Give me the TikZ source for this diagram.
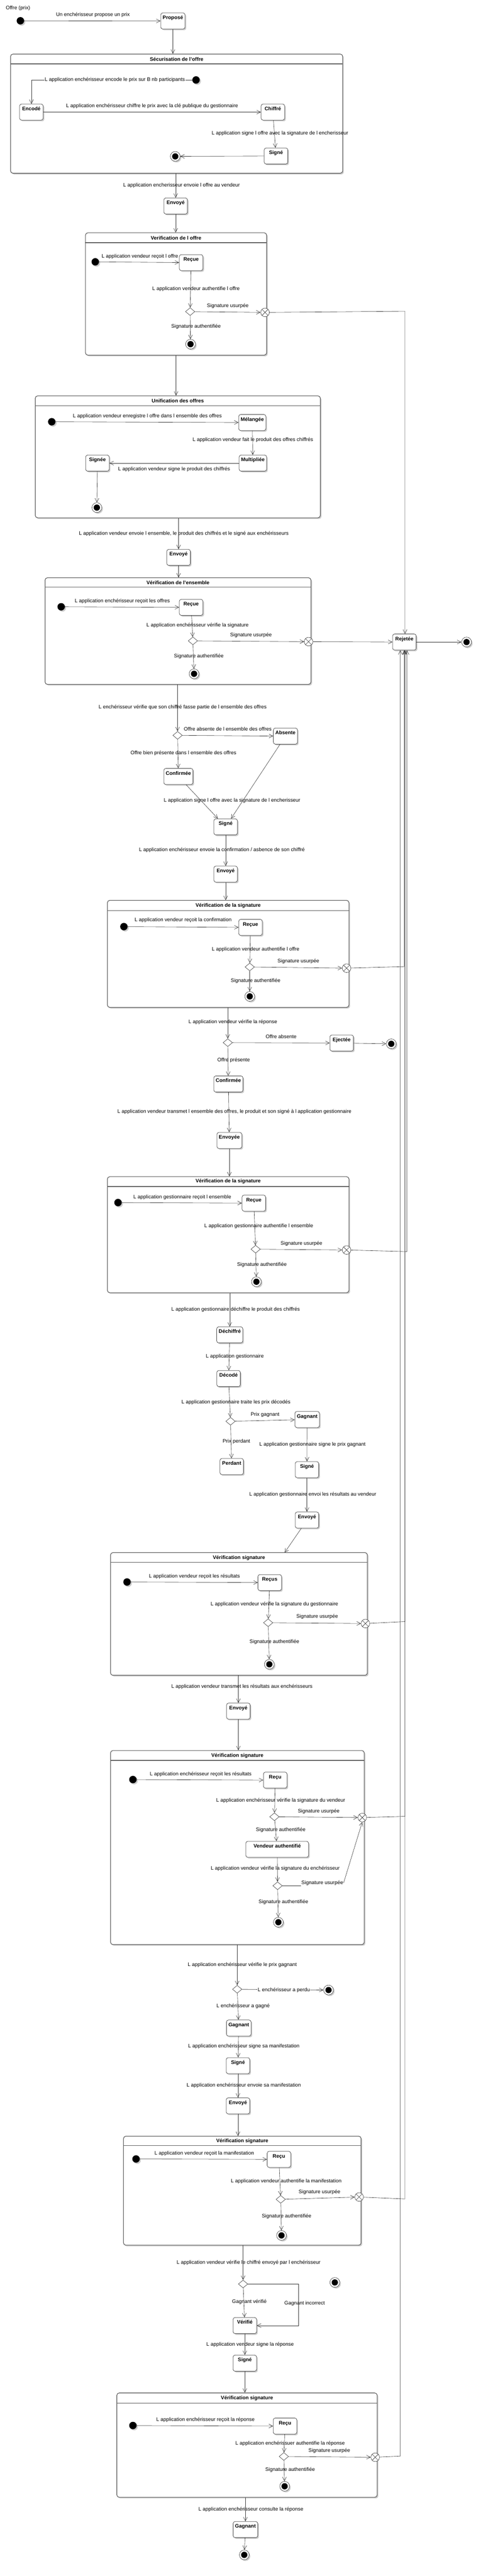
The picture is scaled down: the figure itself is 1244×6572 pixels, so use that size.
\documentclass[tikz,border=0pt]{standalone}
\usepackage{fontspec}
\setmainfont{Liberation Sans}
\usetikzlibrary{arrows.meta,shapes.geometric,shadows,fit,calc}
\begin{document}
\begin{tikzpicture}[x=1pt,y=-1pt,
  every node/.style={font=\fontsize{13}{15}\selectfont},
  ln/.style={draw=black!78, line width=0.8pt},
  tr/.style={ln, -{Straight Barb[length=10pt,width=10pt,line width=0.8pt]}},
  shad/.style={drop shadow={shadow xshift=3pt,shadow yshift=-3pt,fill=black!20,opacity=1}},
  st/.style={draw=black!72, line width=1pt, fill=white, rounded corners=5pt, minimum width=60pt, minimum height=41pt, inner xsep=5pt, inner ysep=2pt, text height=9pt, text depth=17pt, font=\fontsize{13}{15}\selectfont\bfseries, shad},
  comp/.style={draw=black!68, line width=1.4pt, fill=white, rounded corners=6pt, inner sep=0pt, shad},
  ctitle/.style={font=\fontsize{13}{15}\selectfont\bfseries},
  csep/.style={draw=black!62, line width=2pt},
  ini/.style={circle, fill=black, minimum size=19pt, inner sep=0pt, shad},
  fin/.style={circle, draw=black!80, line width=0.8pt, fill=white, minimum size=25pt, inner sep=0pt, shad, path picture={\fill[black] (path picture bounding box.center) circle[radius=8pt];}},
  dec/.style={diamond, draw=black!80, line width=0.8pt, fill=white, minimum width=24pt, minimum height=20pt, inner sep=0pt},
  xpt/.style={circle, draw=black!80, line width=0.8pt, fill=white, minimum size=22pt, inner sep=0pt, path picture={\draw[black!80,line width=0.8pt] ([shift={(-7.8pt,-7.8pt)}]path picture bounding box.center) -- ([shift={(7.8pt,7.8pt)}]path picture bounding box.center) ([shift={(-7.8pt,7.8pt)}]path picture bounding box.center) -- ([shift={(7.8pt,-7.8pt)}]path picture bounding box.center);}},
  lbl/.style={inner sep=1pt},
  lblw/.style={inner sep=1pt, fill=white},
]
\fill[white] (0,0) rectangle (1244,6572);
\useasboundingbox (0,0) rectangle (1244,6572);

% ---------- composite states ----------
\node[comp, fit={(27,138) (874,442)}] (C1) {};
\node[comp, fit={(218,594) (680,906)}] (C2) {};
\node[comp, fit={(90,1010) (817,1321)}] (C3) {};
\node[comp, fit={(115,1474) (793,1746)}] (C4) {};
\node[comp, fit={(274,2297) (890,2570)}] (C5) {};
\node[comp, fit={(274,3002) (890,3298)}] (C6) {};
\node[comp, fit={(282,3961) (937,4274)}] (C7) {};
\node[comp, fit={(282,4466) (929,4961)}] (C8) {};
\node[comp, fit={(315,5450) (921,5728)}] (C9) {};
\node[comp, fit={(298,6105) (962,6371)}] (C10) {};

\draw[csep] (C1.west |- 0,163) -- (C1.east |- 0,163);
\draw[csep] (C2.west |- 0,619) -- (C2.east |- 0,619);
\draw[csep] (C3.west |- 0,1035) -- (C3.east |- 0,1035);
\draw[csep] (C4.west |- 0,1498) -- (C4.east |- 0,1498);
\draw[csep] (C5.west |- 0,2323) -- (C5.east |- 0,2323);
\draw[csep] (C6.west |- 0,3027) -- (C6.east |- 0,3027);
\draw[csep] (C7.west |- 0,3986) -- (C7.east |- 0,3986);
\draw[csep] (C8.west |- 0,4491) -- (C8.east |- 0,4491);
\draw[csep] (C9.west |- 0,5474) -- (C9.east |- 0,5474);
\draw[csep] (C10.west |- 0,6131) -- (C10.east |- 0,6131);

\node[ctitle] (t1) at (C1.north |- 0,151) {Sécurisation de l'offre};
\node[ctitle] (t2) at (C2.north |- 0,607) {Verification de l offre};
\node[ctitle] (t3) at (C3.north |- 0,1023) {Unification des offres};
\node[ctitle] (t4) at (C4.north |- 0,1486) {Vérification de l'ensemble};
\node[ctitle] (t5) at (C5.north |- 0,2310) {Vérification de la signature};
\node[ctitle] (t6) at (C6.north |- 0,3014) {Vérification de la signature};
\node[ctitle] (t7) at (C7.north |- 0,3975) {Vérification signature};
\node[ctitle] (t8) at (C8.north |- 0,4479) {Vérification signature};
\node[ctitle] (t9) at (C9.north |- 0,5462) {Vérification signature};
\node[ctitle] (t10) at (C10.north |- 0,6119) {Vérification signature};

% ---------- states ----------
\node[st] (prop) at (441,53.5) {Proposé};
\node[st] (enc) at (80,286) {Encodé};
\node[st] (chif) at (696,286) {Chiffré};
\node[st] (sig1) at (704,398) {Signé};
\node[st] (env1) at (448,525.5) {Envoyé};
\node[st] (rec2) at (487.5,670) {Reçue};
\node[st] (mel) at (643.5,1078) {Mélangée};
\node[st] (mul) at (645,1181.5) {Multipliée};
\node[st] (sgn3) at (248.5,1181.5) {Signée};
\node[st] (env3) at (455.5,1422) {Envoyé};
\node[st] (rec4) at (487.5,1549.5) {Reçue};
\node[st] (rej) at (1031.5,1638) {Rejetée};
\node[st] (abs) at (728,1878) {Absente};
\node[st] (conf5) at (455,1981) {Confirmée};
\node[st] (sig5) at (575.5,2109.5) {Signé};
\node[st] (env5) at (575.5,2230) {Envoyé};
\node[st] (rec5) at (639,2366) {Reçue};
\node[st] (ej) at (871.5,2661) {Ejectée};
\node[st] (conf7) at (582.5,2765.5) {Confirmée};
\node[st] (env7) at (585,2909.5) {Envoyée};
\node[st] (rec6) at (647.5,3069.5) {Reçue};
\node[st] (dech) at (586,3405.5) {Déchiffré};
\node[st] (deco) at (583,3517) {Décodé};
\node[st] (gag9) at (783.5,3621.5) {Gagnant};
\node[st] (perd) at (591,3741.5) {Perdant};
\node[st] (sig9) at (783,3749.5) {Signé};
\node[st] (env9) at (783,3878) {Envoyé};
\node[st] (rec7) at (688,4037.5) {Reçus};
\node[st] (env10) at (608,4365.5) {Envoyé};
\node[st] (rec8) at (702,4541.5) {Reçu};
\node[st, minimum width=160pt] (vauth) at (707,4718) {Vendeur authentifié};
\node[st] (gag13) at (609,5174) {Gagnant};
\node[st] (sig13) at (607,5270) {Signé};
\node[st] (env13) at (607,5372.5) {Envoyé};
\node[st] (rec9) at (711.5,5509) {Reçu};
\node[st] (ver) at (624.5,5933) {Vérifié};
\node[st] (sig15) at (624.5,6029) {Signé};
\node[st] (rec10) at (727,6189.5) {Reçu};
\node[st] (gag16) at (626,6453.5) {Gagnant};

% ---------- pseudo states ----------
\node[ini] (i0) at (52,53) {};
\node[ini] (i1) at (500,204) {};
\node[ini] (i2) at (243,668) {};
\node[ini] (i3) at (132,1076) {};
\node[ini] (i4) at (156,1548) {};
\node[ini] (i5) at (316,2364) {};
\node[ini] (i6) at (301,3068) {};
\node[ini] (i7) at (324,4036) {};
\node[ini] (i8) at (339,4540) {};
\node[ini] (i9) at (347,5508) {};
\node[ini] (i10) at (339,6188) {};

\node[fin] (f1) at (447,399) {};
\node[fin] (f2) at (486,878) {};
\node[fin] (f3) at (247,1295) {};
\node[fin] (ffr) at (1190,1638) {};
\node[fin] (f4) at (495,1719) {};
\node[fin] (f6) at (637,2542) {};
\node[fin] (fej) at (998,2663) {};
\node[fin] (f8) at (654,3270) {};
\node[fin] (f10) at (687,4246) {};
\node[fin] (f12) at (710,4904) {};
\node[fin] (f13) at (838,5077) {};
\node[fin] (f14) at (718,5703) {};
\node[fin] (fsa) at (854,5823) {};
\node[fin] (f16) at (726,6343) {};
\node[fin] (fend) at (623,6518) {};

\node[dec] (d2) at (485,795) {};
\node[dec] (d4) at (492,1635) {};
\node[dec] (d5) at (453,1876) {};
\node[dec] (d6) at (637,2467) {};
\node[dec] (d7) at (581,2660) {};
\node[dec] (d8) at (652,3187) {};
\node[dec] (d9) at (588,3626) {};
\node[dec] (d10) at (684,4140) {};
\node[dec] (d11) at (700,4635) {};
\node[dec] (d12) at (708,4811) {};
\node[dec] (d13) at (605,5075) {};
\node[dec] (d14) at (716,5611) {};
\node[dec] (d15) at (620,5827) {};
\node[dec] (d16) at (724,6267) {};

\node[xpt] (x2) at (676,797) {};
\node[xpt] (x4) at (787,1637) {};
\node[xpt] (x6) at (884,2470) {};
\node[xpt] (x8) at (884,3189) {};
\node[xpt] (x10) at (932,4142) {};
\node[xpt] (x11) at (924,4637) {};
\node[xpt] (x14) at (916,5605) {};
\node[xpt] (x16) at (957,6269) {};

\coordinate (b2) at (1033,794);
\coordinate (b6) at (1031,2466);
\coordinate (b8) at (1038,3193);
\coordinate (b10) at (1033,4137);
\coordinate (b11) at (1033,4634);
\coordinate (b14) at (1033,5610);
\coordinate (b16) at (1021,6266);
\coordinate (c7in) at (726,3961);
\coordinate (c15) at (761,5827);

% ---------- labels ----------
\node[lbl] (l0) at (46,21) {Offre (prix)};
\node[lbl] (la) at (237,38) {Un enchérisseur propose un prix};
\node[lbl] (lc) at (388,271) {L application enchérisseur chiffre le prix avec la clé publique du gestionnaire};
\node[lbl] (ld) at (714,340) {L application signe l offre avec la signature de l encherisseur};
\node[lbl] (le) at (463,473) {L application encherisseur envoie l offre au vendeur};
\node[lbl] (lf) at (357,654) {L application vendeur reçoit l offre};
\node[lbl] (lg) at (500,737) {L application vendeur authentifie l offre};
\node[lbl] (lh) at (581,781) {Signature usurpée};
\node[lbl] (li) at (500,833) {Signature authentifiée};
\node[lbl] (lj) at (376,1062) {L application vendeur enregistre l offre dans l ensemble des offres};
\node[lbl] (lk) at (645,1122) {L application vendeur fait le produit des offres chiffrés};
\node[lbl] (ll) at (444,1197) {L application vendeur signe le produit des chiffrés};
\node[lbl] (lm) at (469,1361) {L application vendeur envoie l ensemble, le produit des chiffrés et le signé aux enchérisseurs};
\node[lbl] (ln) at (312,1534) {L application enchérisseur reçoit les offres};
\node[lbl] (lo) at (504,1595) {L application enchérisseur vérifie la signature};
\node[lbl] (lp) at (640,1621) {Signature usurpée};
\node[lbl] (lq) at (507,1674) {Signature authentifiée};
\node[lbl] (lr) at (466,1804) {L enchérisseur vérifie que son chiffré fasse partie de l ensemble des offres};
\node[lbl] (ls) at (581,1860) {Offre absente de l ensemble des offres};
\node[lbl] (lt) at (468,1921) {Offre bien présente dans l ensemble des offres};
\node[lbl] (lu) at (592,2042) {L application signe l offre avec la signature de l encherisseur};
\node[lbl] (lv) at (566,2168) {L application enchérisseur envoie la confirmation / asbence de son chiffré};
\node[lbl] (lw) at (467,2348) {L application vendeur reçoit la confirmation};
\node[lbl] (lx) at (652,2422) {L application vendeur authentifie l offre};
\node[lbl] (ly) at (761,2452) {Signature usurpée};
\node[lbl] (lz) at (652,2502) {Signature authentifiée};
\node[lbl] (m1) at (594,2608) {L application vendeur vérifie la réponse};
\node[lbl] (m2) at (717,2644) {Offre absente};
\node[lbl] (m3) at (596,2705) {Offre présente};
\node[lbl] (m4) at (598,2836) {L application vendeur transmet l ensemble des offres, le produit et son signé à l application gestionnaire};
\node[lbl] (m5) at (465,3055) {L application gestionnaire reçoit l ensemble};
\node[lbl] (m6) at (660,3128) {L application gestionnaire authentifie l ensemble};
\node[lbl] (m7) at (769,3173) {Signature usurpée};
\node[lbl] (m8) at (668,3226) {Signature authentifiée};
\node[lbl] (m9) at (601,3341) {L application gestionnaire déchiffre le produit des chiffrés};
\node[lbl] (m10) at (599,3461) {L application gestionnaire};
\node[lbl] (m11) at (602,3577) {L application gestionnaire traite les prix décodés};
\node[lbl] (m12) at (676,3609) {Prix gagnant};
\node[lbl] (m13) at (603,3678) {Prix perdant};
\node[lbl] (m14) at (797,3685) {L application gestionnaire signe le prix gagnant};
\node[lbl] (m15) at (798,3813) {L application gestionnaire envoi les résultats au vendeur};
\node[lbl] (m16) at (496,4022) {L application vendeur reçoit les résultats};
\node[lbl] (m17) at (700,4093) {L application vendeur vérifie la signature du gestionnaire};
\node[lbl] (m18) at (809,4125) {Signature usurpée};
\node[lbl] (m19) at (700,4189) {Signature authentifiée};
\node[lbl] (m20) at (617,4303) {L application vendeur transmet les résultats aux enchérisseurs};
\node[lbl] (m21) at (512,4526) {L application enchérisseur reçoit les résultats};
\node[lbl] (m22) at (716,4594) {L application enchérisseur vérifie la signature du vendeur};
\node[lbl] (m23) at (813,4621) {Signature usurpée};
\node[lbl] (m24) at (716,4669) {Signature authentifiée};
\node[lbl] (m25) at (702,4767) {L application vendeur vérifie la signature du enchérisseur};
\node[lbl] (m26) at (822,4804) {Signature usurpée};
\node[lbl] (m27) at (723,4853) {Signature authentifiée};
\node[lbl] (m28) at (618,5013) {L application enchérisseur vérifie le prix gagnant};
\node[lbl] (m30) at (620,5118) {L enchérisseur a gagné};
\node[lbl] (m31) at (622,5220) {L application enchérisseur signe sa manifestation};
\node[lbl] (m32) at (622,5321) {L application enchérisseur envoie sa manifestation};
\node[lbl] (m33) at (521,5494) {L application vendeur reçoit la manifestation};
\node[lbl] (m34) at (730,5565) {L application vendeur authentifie la manifestation};
\node[lbl] (m35) at (815,5593) {Signature usurpée};
\node[lbl] (m36) at (731,5654) {Signature authentifiée};
\node[lbl] (m37) at (634,5773) {L application vendeur vérifie le chiffré envoyé par l enchérisseur};
\node[lbl] (m38) at (636,5873) {Gagnant vérifié};
\node[lbl] (m39) at (777,5877) {Gagnant incorrect};
\node[lbl] (m40) at (638,5981) {L application vendeur signe la réponse};
\node[lbl] (m41) at (524,6173) {L application enchérisseur reçoit la réponse};
\node[lbl] (m42) at (740,6234) {L application enchérissuer authentifie la réponse};
\node[lbl] (m43) at (840,6253) {Signature usurpée};
\node[lbl] (m44) at (740,6301) {Signature authentifiée};
\node[lbl] (m45) at (640,6402) {L application enchérisseur consulte la réponse};

% ---------- transitions ----------
\draw[tr] (i0) -- (prop);
\draw[tr] (prop.south) -- (prop.south |- C1.north);
\draw[tr] (i1) -| (enc.north);
\draw[tr] (enc) -- (chif);
\draw[tr] (chif) -- (sig1);
\draw[tr] (sig1) -- (f1);
\draw[tr] (C1.south -| env1) -- (env1);
\draw[tr] (env1.south) -- (env1.south |- C2.north);

\draw[tr] (i2) -- (rec2);
\draw[tr] (rec2) -- (d2);
\draw[tr] (d2) -- (x2);
\draw[tr] (d2) -- (f2);
\draw[tr] (x2) -- (b2) -- (b2 |- rej.north);
\draw[tr] (C2.south) -- (C2.south |- C3.north);

\draw[tr] (i3) -- (mel);
\draw[tr] (mel) -- (mul);
\draw[tr] (mul) -- (sgn3);
\draw[tr] (sgn3) -- (f3);
\draw[tr] (C3.south -| env3) -- (env3);
\draw[tr] (env3.south) -- (env3.south |- C4.north);

\draw[tr] (i4) -- (rec4);
\draw[tr] (rec4) -- (d4);
\draw[tr] (d4) -- (x4);
\draw[tr] (d4) -- (f4);
\draw[tr] (x4) -- (rej);
\draw[tr] (rej) -- (ffr);
\draw[tr] (C4.south -| d5) -- (d5);
\draw[tr] (d5) -- (abs);
\draw[tr] (d5) -- (conf5);
\draw[tr] (conf5) -- (sig5);
\draw[tr] (abs) -- (sig5);
\draw[tr] (sig5) -- (env5);
\draw[tr] (env5.south) -- (env5.south |- C5.north);

\draw[tr] (i5) -- (rec5);
\draw[tr] (rec5) -- (d6);
\draw[tr] (d6) -- (x6);
\draw[tr] (d6) -- (f6);
\draw[tr] (x6) -- (b6) -- (b6 |- rej.south);
\draw[tr] (C5.south -| d7) -- (d7);
\draw[tr] (d7) -- (ej);
\draw[tr] (ej) -- (fej);
\draw[tr] (d7) -- (conf7);
\draw[tr] (conf7) -- (env7);
\draw[tr] (env7.south) -- (env7.south |- C6.north);

\draw[tr] (i6) -- (rec6);
\draw[tr] (rec6) -- (d8);
\draw[tr] (d8) -- (x8);
\draw[tr] (d8) -- (f8);
\draw[tr] (x8) -- (b8) -- (b8 |- rej.south);
\draw[tr] (C6.south -| dech) -- (dech);
\draw[tr] (dech) -- (deco);
\draw[tr] (deco) -- (d9);
\draw[tr] (d9) -- (gag9);
\draw[tr] (d9) -- (perd);
\draw[tr] (gag9) -- (sig9);
\draw[tr] (sig9) -- (env9);
\draw[tr] (env9) -- (c7in);

\draw[tr] (i7) -- (rec7);
\draw[tr] (rec7) -- (d10);
\draw[tr] (d10) -- (x10);
\draw[tr] (d10) -- (f10);
\draw[tr] (x10) -- (b10) -- (b10 |- rej.south);
\draw[tr] (C7.south -| env10) -- (env10);
\draw[tr] (env10.south) -- (env10.south |- C8.north);

\draw[tr] (i8) -- (rec8);
\draw[tr] (rec8) -- (d11);
\draw[tr] (d11) -- (x11);
\draw[tr] (d11) -- (vauth);
\draw[tr] (x11) -- (b11) -- (b11 |- rej.south);
\draw[tr] (vauth) -- (d12);
\draw[ln] (d12.east) -- (d12.east -| m26.west);
\draw[tr] (m26.east) -- (x11.south);
\draw[tr] (d12) -- (f12);
\draw[tr] (C8.south -| d13) -- (d13);
\draw[tr] (d13) -- (f13);
\draw[tr] (d13) -- (gag13);
\draw[tr] (gag13) -- (sig13);
\draw[tr] (sig13) -- (env13);
\draw[tr] (env13.south) -- (env13.south |- C9.north);

\draw[tr] (i9) -- (rec9);
\draw[tr] (rec9) -- (d14);
\draw[tr] (d14) -- (x14);
\draw[tr] (d14) -- (f14);
\draw[tr] (x14) -- (b14) -- (b14 |- rej.south);
\draw[tr] (C9.south -| d15) -- (d15);
\draw[tr] (d15.east) -- (c15) |- (ver.east);
\draw[tr] (d15) -- (ver);
\draw[tr] (ver) -- (sig15);
\draw[tr] (sig15.south) -- (sig15.south |- C10.north);

\draw[tr] (i10) -- (rec10);
\draw[tr] (rec10) -- (d16);
\draw[tr] (d16) -- (x16);
\draw[tr] (d16) -- (f16);
\draw[tr] (x16) -- (b16) -- (b16 |- rej.south);
\draw[tr] (C10.south -| gag16) -- (gag16);
\draw[tr] (gag16) -- (fend);

% labels that sit on their line
\node[lblw] (lb) at (293,203) {L application enchérisseur encode le prix sur B nb participants};
\node[lblw] (m29) at (724,5077) {L enchérisseur a perdu};
\end{tikzpicture}
\end{document}
